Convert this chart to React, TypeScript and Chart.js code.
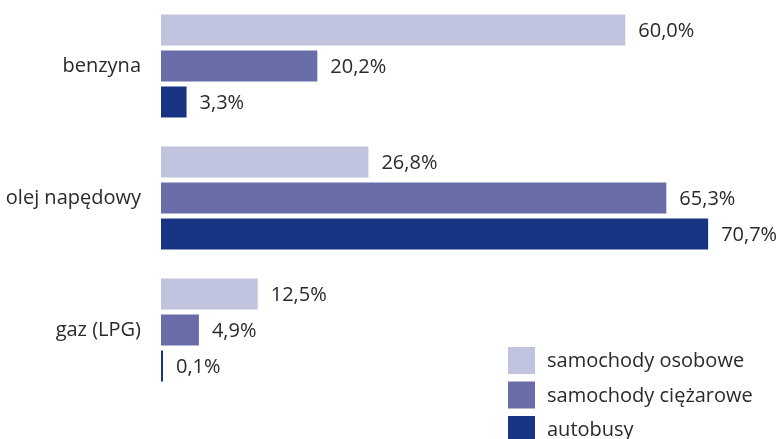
import React, { useEffect, useRef } from "react";
import { Chart, registerables } from "chart.js";

Chart.register(...registerables);

const categories = ["benzyna", "olej napędowy", "gaz (LPG)"];
const seriesNames = ["samochody osobowe", "samochody ciężarowe", "autobusy"];
const osobowe = [60.0, 26.8, 12.5];
const ciezarowe = [20.2, 65.3, 4.9];
const autobusy = [3.3, 70.7, 0.1];
const colors = ["#C0C4DF", "#686DA7", "#163482"];

const FONT_FAMILY = "'Open Sans', 'Noto Sans', sans-serif";
const FONT_SIZE = 20;
const TEXT_COLOR = "#2a2a2a";

const fmt = (v: number) => v.toFixed(1).replace(".", ",") + "%";

const valueLabels = {
  id: "valueLabels",
  afterDatasetsDraw(chart: any) {
    const ctx = chart.ctx;
    ctx.save();
    ctx.font = `${FONT_SIZE}px ${FONT_FAMILY}`;
    ctx.fillStyle = TEXT_COLOR;
    ctx.textAlign = "left";
    ctx.textBaseline = "middle";
    chart.data.datasets.forEach((ds: any, i: number) => {
      const meta = chart.getDatasetMeta(i);
      meta.data.forEach((el: any, j: number) => {
        ctx.fillText(fmt(ds.data[j]), el.x + 13, el.y + 1);
      });
    });
    ctx.restore();
  },
};

const boxLegend = {
  id: "boxLegend",
  afterDraw(chart: any) {
    const ctx = chart.ctx;
    const x0 = chart.width - 269;
    const y0 = chart.height - 92;
    const box = 27;
    const stride = 34.5;
    ctx.save();
    ctx.font = `${FONT_SIZE}px ${FONT_FAMILY}`;
    ctx.textAlign = "left";
    ctx.textBaseline = "middle";
    chart.data.datasets.forEach((ds: any, i: number) => {
      const y = y0 + i * stride;
      ctx.fillStyle = ds.backgroundColor;
      ctx.fillRect(x0, y, box, box);
      ctx.fillStyle = TEXT_COLOR;
      ctx.fillText(ds.label, x0 + 39, y + box / 2 + 1);
    });
    ctx.restore();
  },
};

export default function App() {
  const ref = useRef<HTMLCanvasElement>(null);
  useEffect(() => {
    if (!ref.current) return;
    const values = [osobowe, ciezarowe, autobusy];
    const chart = new Chart(ref.current, {
      type: "bar",
      data: {
        labels: categories,
        datasets: seriesNames.map((name, i) => ({
          label: name,
          data: values[i],
          backgroundColor: colors[i],
          borderWidth: 0,
          barPercentage: 0.861,
          categoryPercentage: 0.818,
          minBarLength: 2,
        })),
      },
      options: {
        indexAxis: "y",
        animation: false,
        responsive: true,
        maintainAspectRatio: false,
        layout: { padding: { top: 0, bottom: 43, left: 0, right: 0 } },
        plugins: {
          legend: { display: false },
          tooltip: { enabled: false },
        },
        scales: {
          x: { display: false, min: 0, max: 79.6 },
          y: {
            grid: { display: false, drawTicks: false },
            border: { display: false },
            ticks: {
              padding: 20,
              color: TEXT_COLOR,
              font: { family: FONT_FAMILY, size: FONT_SIZE },
            },
            afterFit: (s: any) => {
              s.width = 161;
              s.paddingTop = 0;
              s.paddingBottom = 0;
            },
          },
        },
      },
      plugins: [valueLabels, boxLegend],
    });
    return () => chart.destroy();
  }, []);
  return (
    <div style={{ position: "absolute", left: 0, top: 0, width: 777, height: 439, background: "#fff" }}>
      <canvas ref={ref} />
    </div>
  );
}
